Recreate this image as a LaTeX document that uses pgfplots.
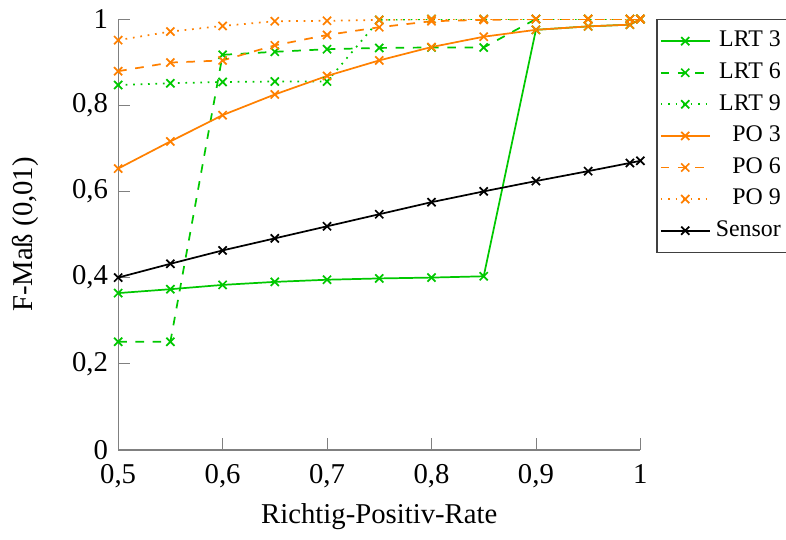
\documentclass[border=0pt]{standalone}
\usepackage{fontspec}
\setmainfont{Liberation Serif}
\usepackage{pgfplots}
\pgfplotsset{compat=1.18}

\definecolor{lrtgreen}{RGB}{0,200,0}
\definecolor{poorange}{RGB}{255,128,0}

\begin{document}
\begin{tikzpicture}[trim right=232.5pt]
\begin{axis}[
  at={(0,0)}, anchor=south west,
  scale only axis,
  width=181.8pt, height=150pt,
  xmin=0.5, xmax=1, ymin=0, ymax=1,
  xtick={0.5,0.6,0.7,0.8,0.9,1},
  ytick={0,0.2,0.4,0.6,0.8,1},
  axis x line=bottom, axis y line=left,
  axis line style={gray, -},
  tick style={gray},
  tick align=inside,
  /pgf/number format/assume math mode=true,
  /pgf/number format/use comma,
  xticklabel style={yshift=-1.6pt},
  xlabel={Richtig-Positiv-Rate},
  xlabel shift=-1.5pt,
  ylabel={F-Maß (0,01)},
  ylabel shift=4pt,
  ylabel style={inner ysep=4.2pt},
  legend style={at={(1,1)}, xshift=5.6pt, anchor=north west, draw=black!75,
    inner xsep=1pt, font=\fontsize{8.3}{10}\selectfont, nodes={inner xsep=1.8pt}},
  legend cell align=right,
  every axis plot/.append style={semithick, mark=x, mark size=2pt, mark options={solid}},
]
% LRT, window 3
\addplot[color=lrtgreen] coordinates {
  (0.50,0.364) (0.55,0.373) (0.60,0.383) (0.65,0.390) (0.70,0.395) (0.75,0.398)
  (0.80,0.400) (0.85,0.403) (0.90,0.975) (0.95,0.983) (0.99,0.987) (1.00,1.000)};
\addlegendentry{LRT 3}
% LRT, window 6
\addplot[color=lrtgreen, dashed] coordinates {
  (0.50,0.251) (0.55,0.251) (0.60,0.917) (0.65,0.924) (0.70,0.930) (0.75,0.933)
  (0.80,0.934) (0.85,0.934) (0.90,1.000) (0.95,1.000) (0.99,1.000) (1.00,1.000)};
\addlegendentry{LRT 6}
% LRT, window 9
\addplot[color=lrtgreen, dotted] coordinates {
  (0.50,0.847) (0.55,0.851) (0.60,0.854) (0.65,0.855) (0.70,0.855) (0.75,0.998)
  (0.80,1.000) (0.85,1.000) (0.90,1.000) (0.95,1.000) (0.99,1.000) (1.00,1.000)};
\addlegendentry{LRT 9}
% PO, window 3
\addplot[color=poorange] coordinates {
  (0.50,0.653) (0.55,0.716) (0.60,0.777) (0.65,0.825) (0.70,0.868) (0.75,0.904)
  (0.80,0.935) (0.85,0.959) (0.90,0.975) (0.95,0.983) (0.99,0.987) (1.00,1.000)};
\addlegendentry{PO 3}
% PO, window 6
\addplot[color=poorange, dashed] coordinates {
  (0.50,0.879) (0.55,0.899) (0.60,0.904) (0.65,0.939) (0.70,0.963) (0.75,0.981)
  (0.80,0.995) (0.85,0.998) (0.90,1.000) (0.95,1.000) (0.99,1.000) (1.00,1.000)};
\addlegendentry{PO 6}
% PO, window 9
\addplot[color=poorange, dotted] coordinates {
  (0.50,0.951) (0.55,0.971) (0.60,0.984) (0.65,0.995) (0.70,0.996) (0.75,0.998)
  (0.80,1.000) (0.85,1.000) (0.90,1.000) (0.95,1.000) (0.99,1.000) (1.00,1.000)};
\addlegendentry{PO 9}
% Sensor baseline
\addplot[color=black] coordinates {
  (0.50,0.400) (0.55,0.432) (0.60,0.463) (0.65,0.491) (0.70,0.519) (0.75,0.547)
  (0.80,0.575) (0.85,0.600) (0.90,0.624) (0.95,0.647) (0.99,0.666) (1.00,0.671)};
\addlegendentry{Sensor}
\end{axis}
\end{tikzpicture}
\end{document}
